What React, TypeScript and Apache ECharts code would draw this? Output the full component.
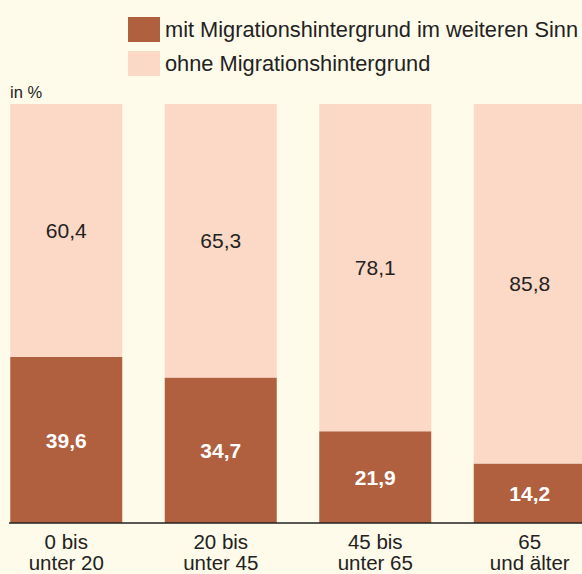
import React, { useEffect, useRef } from "react";
import * as echarts from "echarts";

const categories = ["0 bis\nunter 20", "20 bis\nunter 45", "45 bis\nunter 65", "65\nund älter"];
const mitValues = [39.6, 34.7, 21.9, 14.2];
const ohneValues = [60.4, 65.3, 78.1, 85.8];
const seriesNames = ["mit Migrationshintergrund im weiteren Sinn", "ohne Migrationshintergrund"];

const FONT = "Liberation Sans";
const fmt = (v: number) => v.toFixed(1).replace(".", ",");

export default function App() {
  const ref = useRef<HTMLDivElement>(null);
  useEffect(() => {
    if (!ref.current) return;
    const chart = echarts.init(ref.current, null, { renderer: "svg" });
    chart.setOption({
      animation: false,
      backgroundColor: "#fffbea",
      textStyle: { fontFamily: FONT },
      legend: {
        orient: "vertical",
        left: 123,
        top: 12,
        itemWidth: 32,
        itemHeight: 25,
        itemGap: 9,
        icon: "rect",
        textStyle: { fontSize: 21.8, color: "#222", fontFamily: FONT, lineHeight: 25 },
        data: seriesNames,
      },
      graphic: [
        { type: "text", left: 10, top: 83, style: { text: "in %", fontSize: 16.5, fill: "#222", fontFamily: FONT } },
      ],
      grid: { left: -11, right: -25, top: 104, bottom: 51, outerBoundsMode: "none", containLabel: false },
      xAxis: {
        type: "category",
        data: categories,
        axisLine: { show: false },
        axisTick: { show: false },
        axisLabel: { fontSize: 20.5, color: "#222", lineHeight: 21, margin: 8, fontFamily: FONT },
      },
      yAxis: {
        type: "value",
        min: 0,
        max: 100,
        show: false,
      },
      series: [
        {
          name: seriesNames[0],
          type: "bar",
          stack: "a",
          barWidth: 112,
          data: mitValues,
          itemStyle: { color: "#b05f3f" },
          label: {
            show: true,
            position: "inside",
            color: "#fff",
            fontWeight: "bold",
            fontSize: 21,
            fontFamily: FONT,
            formatter: (p: any) => fmt(p.value),
          },
        },
        {
          name: seriesNames[1],
          type: "bar",
          stack: "a",
          barWidth: 112,
          data: ohneValues,
          itemStyle: { color: "#fcd9c6" },
          label: {
            show: true,
            position: "inside",
            color: "#222",
            fontSize: 21,
            fontFamily: FONT,
            formatter: (p: any) => fmt(p.value),
          },
          markLine: {
            silent: true,
            symbol: "none",
            label: { show: false },
            lineStyle: { color: "#222", width: 1.5, type: "solid" },
            data: [[{ x: 9, yAxis: 0 }, { x: 582, yAxis: 0 }]],
          },
        },
      ],
    });
    return () => chart.dispose();
  }, []);
  return <div ref={ref} style={{ width: 582, height: 574, position: "absolute", left: 0, top: 0 }} />;
}
